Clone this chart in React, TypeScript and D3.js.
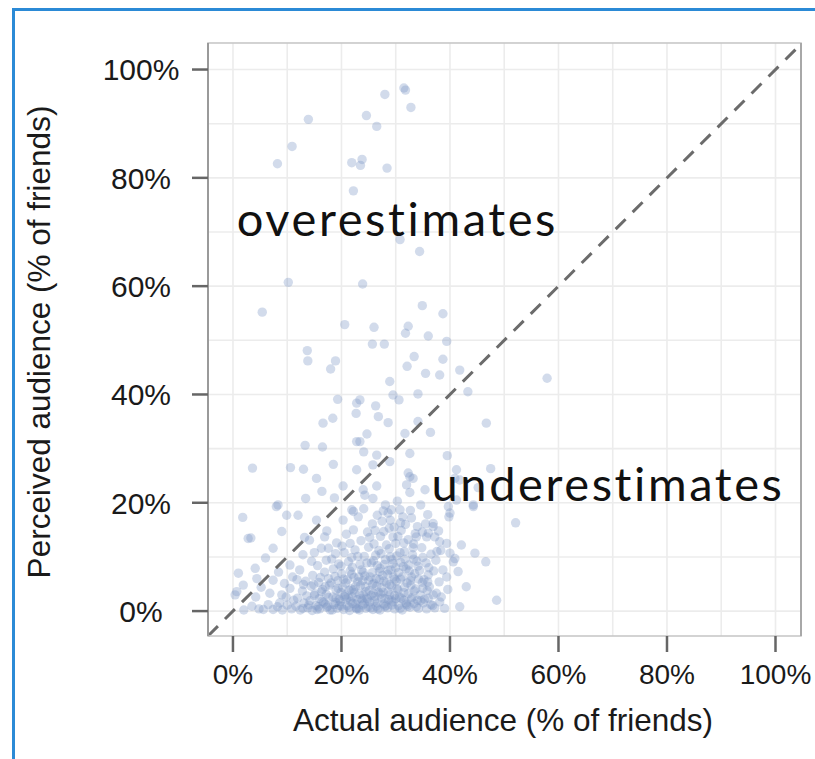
import * as d3 from "d3";
import { useEffect, useRef } from "react";

// axis ticks (percent)
const majorTicks = [0, 20, 40, 60, 80, 100];
const minorTicks = [10, 30, 50, 70, 90];
const xTitle = "Actual audience (% of friends)";
const yTitle = "Perceived audience (% of friends)";

// [actual %, perceived %]
const upperPoints: [number, number][] = [
  [13.9, 90.8], [10.9, 85.8], [8.2, 82.6], [28.0, 95.4], [31.5, 96.6], [31.8, 96.2],
  [32.8, 93.0], [24.6, 91.5], [26.5, 89.5], [21.9, 82.8], [23.8, 83.4], [23.5, 82.3],
  [28.4, 81.8], [22.2, 77.6], [30.8, 68.6], [34.4, 66.4], [10.2, 60.7], [23.9, 60.4],
  [5.4, 55.2], [34.9, 56.4], [38.7, 54.9], [20.6, 52.9], [26.0, 52.4], [32.3, 52.6],
  [31.8, 51.3], [36.0, 50.8], [39.4, 49.8], [25.7, 49.3], [27.9, 49.3], [13.7, 48.1],
  [13.8, 46.2], [18.9, 46.2], [33.4, 47.0], [38.7, 46.5], [35.5, 43.9],
];

const midPoints: [number, number][] = [
  [13.3, 30.6], [16.5, 30.3], [22.8, 31.3], [23.4, 31.3], [24.7, 32.7], [31.7, 32.8],
  [36.4, 33.0], [16.6, 34.7], [18.4, 35.6], [22.7, 36.5], [26.8, 35.9], [28.6, 34.8],
  [34.1, 35.0], [46.7, 34.7], [19.3, 39.1], [22.8, 38.4], [23.4, 39.0], [26.3, 37.9],
  [29.5, 39.9], [30.6, 39.0], [34.1, 40.1], [43.3, 40.5], [28.9, 42.4], [38.1, 43.6],
  [41.8, 44.5], [18.0, 44.7], [57.9, 43.0], [32.1, 45.2],
  [20.3, 23.1], [26.5, 23.1], [16.4, 22.1], [13.4, 20.8], [24.0, 22.4], [24.3, 21.4],
  [25.8, 20.8], [32.6, 24.8], [33.2, 24.5], [32.0, 23.3], [32.6, 21.9], [35.4, 22.4],
  [41.8, 24.2], [41.2, 20.5], [15.4, 24.5], [3.6, 26.4], [10.6, 26.5], [13.0, 26.2],
  [18.5, 27.1], [22.8, 26.1], [25.8, 27.0], [26.5, 28.8], [28.9, 27.6], [32.3, 25.5],
  [32.6, 29.1], [24.1, 29.4], [39.5, 28.7], [41.2, 26.1], [40.9, 24.5], [44.3, 19.6],
  [18.7, 20.9], [30.3, 20.3], [47.5, 26.3], [45.2, 22.8],
];

const lowPoints: [number, number][] = [
  [1.8, 17.3], [8.3, 19.6], [9.9, 17.7], [12.0, 17.7], [15.4, 16.8], [20.3, 16.8],
  [21.9, 18.7], [22.2, 18.4], [23.1, 17.4], [25.7, 16.1], [27.7, 18.5], [28.6, 18.1],
  [29.2, 18.7], [30.8, 18.7], [31.3, 17.4], [35.5, 16.1], [36.9, 16.2], [39.7, 19.3],
  [39.8, 17.4], [40.0, 18.1], [44.3, 19.3], [8.0, 19.3], [52.1, 16.3], [27.5, 16.6],
  [32.9, 17.2], [34.6, 19.6], [24.1, 18.9],
  [3.3, 13.5], [2.8, 13.4], [9.0, 14.7], [14.1, 13.1], [16.9, 13.7], [19.1, 12.6],
  [20.9, 14.2], [22.2, 15.0], [23.6, 13.0], [24.8, 14.6], [26.0, 12.4], [27.2, 13.8],
  [28.3, 12.2], [28.8, 15.3], [29.5, 13.7], [30.0, 12.5], [31.0, 14.9], [32.3, 13.2],
  [33.8, 13.7], [34.0, 15.6], [35.7, 13.7], [36.0, 14.4], [36.9, 15.6], [37.2, 13.7],
  [38.1, 12.8], [39.4, 12.5], [42.1, 12.2], [31.5, 12.6], [33.6, 14.3], [29.7, 15.5],
  [26.2, 14.9], [21.6, 12.5], [17.3, 14.8], [13.2, 13.6],
  [10.5, 8.5], [12.9, 10.4], [7.4, 11.6], [16.3, 11.6], [17.6, 11.6], [14.5, 9.2],
  [15.6, 8.4], [18.2, 9.6], [19.5, 8.7], [20.5, 10.8], [21.3, 9.1], [22.5, 11.3],
  [23.4, 8.6], [24.2, 10.1], [25.0, 11.8], [25.9, 9.3], [26.6, 8.4], [27.3, 10.6],
  [28.1, 9.5], [28.8, 11.5], [29.5, 8.8], [30.2, 10.2], [30.9, 9.0], [31.6, 11.0],
  [32.4, 8.5], [33.1, 10.4], [33.9, 9.2], [34.8, 11.7], [35.6, 8.9], [36.5, 10.5],
  [37.4, 9.4], [38.3, 11.2], [40.0, 10.7], [40.6, 9.1], [40.9, 9.7], [44.6, 10.7],
  [46.6, 9.1], [19.9, 8.3], [21.9, 9.9], [24.7, 8.9], [26.9, 11.2], [29.0, 10.0],
  [33.3, 9.6], [31.4, 8.2], [6.0, 9.8],
];

const densePoints: [number, number][] = [
  [1.0, 7.0], [4.4, 6.0], [4.1, 7.9], [7.4, 5.7], [12.3, 7.6], [13.4, 5.5], [14.7, 6.6],
  [15.8, 5.3], [16.9, 7.2], [17.6, 6.0], [18.5, 7.8], [19.3, 5.6], [20.0, 6.9], [20.8, 5.2],
  [21.6, 7.4], [22.3, 6.2], [23.0, 5.4], [23.7, 7.6], [24.3, 6.5], [25.0, 5.7], [25.7, 7.1],
  [26.4, 6.0], [27.1, 7.9], [27.8, 5.5], [28.5, 6.8], [29.1, 7.6], [29.8, 5.9], [30.5, 7.1],
  [31.2, 6.3], [31.9, 7.8], [32.7, 5.6], [33.5, 6.9], [34.4, 7.5], [35.2, 5.8], [36.0, 6.7],
  [37.0, 7.4], [38.7, 7.6], [39.4, 6.3], [41.5, 7.3], [11.0, 6.3], [9.5, 5.1], [8.4, 7.2],
  [0.4, 3.0], [0.7, 3.6], [1.9, 4.8], [4.2, 2.6], [6.8, 3.3], [9.0, 3.0], [10.5, 4.2],
  [11.9, 2.4], [12.8, 3.7], [13.6, 2.8], [14.4, 4.6], [15.1, 3.2], [15.9, 2.3], [16.5, 4.0],
  [17.2, 3.1], [17.8, 4.8], [18.4, 2.6], [19.0, 3.9], [19.6, 2.2], [20.2, 4.4], [20.7, 3.0],
  [21.3, 2.5], [21.8, 4.1], [22.4, 3.4], [22.9, 2.1], [23.5, 4.7], [24.0, 3.0], [24.6, 2.4],
  [25.1, 3.8], [25.7, 4.9], [26.2, 2.7], [26.8, 3.5], [27.4, 4.3], [28.0, 2.3], [28.6, 3.6],
  [29.2, 4.6], [29.8, 2.9], [30.4, 3.9], [31.0, 2.4], [31.6, 4.4], [32.3, 3.2], [33.0, 2.5],
  [33.7, 4.1], [34.5, 3.0], [35.3, 2.2], [36.2, 4.5], [37.5, 3.3], [38.4, 2.6], [39.6, 4.0],
  [43.0, 4.5], [5.2, 4.4],
  [2.0, 0.2], [3.5, 0.9], [4.8, 0.4], [5.6, 0.3], [6.5, 1.2], [7.4, 0.3], [8.2, 0.8],
  [9.1, 0.2], [10.0, 1.1], [10.8, 0.4], [11.6, 0.9], [12.4, 0.2], [13.1, 1.5], [13.8, 0.6],
  [14.6, 0.1], [15.3, 1.0], [16.0, 0.4], [16.7, 1.6], [17.3, 0.7], [17.9, 0.2], [18.6, 1.2],
  [19.2, 0.5], [19.8, 1.8], [20.4, 0.3], [21.0, 1.0], [21.5, 0.1], [22.1, 1.4], [22.7, 0.6],
  [23.3, 0.2], [23.9, 1.1], [24.5, 0.5], [25.2, 1.7], [25.8, 0.3], [26.4, 0.9], [27.1, 0.2],
  [27.8, 1.3], [28.5, 0.6], [29.2, 2.0], [29.8, 0.4], [30.5, 1.0], [31.2, 0.2], [31.9, 1.5],
  [32.6, 0.7], [33.8, 0.8], [34.6, 1.9], [35.7, 0.4], [36.5, 1.2], [38.1, 1.7], [39.0, 0.5],
  [41.8, 0.8], [48.6, 2.0],
  [14.2, 1.9], [15.0, 2.9], [15.7, 0.8], [16.3, 3.6], [17.0, 1.3], [17.6, 2.5], [18.1, 5.2],
  [18.9, 1.6], [19.4, 4.2], [20.0, 0.9], [20.6, 2.7], [21.1, 5.8], [21.7, 1.8], [22.2, 3.9],
  [22.8, 0.4], [23.2, 6.3], [23.8, 2.0], [24.4, 4.5], [24.9, 0.8], [25.5, 2.9], [26.0, 5.1],
  [26.6, 1.5], [27.2, 3.1], [27.6, 6.6], [28.2, 1.0], [28.9, 4.9], [29.5, 1.7], [30.1, 5.5],
  [30.7, 2.6], [32.0, 1.2], [32.8, 4.8], [34.0, 2.0], [34.9, 5.3], [35.8, 3.8], [36.8, 1.0],
];

const corePoints: [number, number][] = [
  [12.9, 0.5], [14.0, 1.1], [15.5, 0.3], [16.4, 1.8], [17.5, 0.9], [18.3, 0.2], [19.0, 2.4],
  [19.6, 1.0], [20.9, 2.2], [21.4, 0.7], [22.0, 2.6], [22.6, 1.3], [23.1, 0.5], [23.6, 2.3],
  [24.2, 1.4], [24.8, 2.2], [25.4, 0.6], [26.1, 1.9], [26.7, 0.4], [27.4, 2.4], [28.0, 0.8],
  [28.7, 2.1], [29.3, 1.1], [30.0, 2.3], [30.8, 0.5], [31.5, 2.0], [32.2, 0.9], [32.9, 2.2],
  [33.4, 1.4], [34.2, 0.5], [35.1, 1.5], [36.0, 2.4], [37.2, 0.6], [11.2, 2.0], [9.8, 2.6],
  [8.6, 1.5],
  [14.9, 4.9], [16.1, 6.2], [17.0, 4.5], [18.8, 6.4], [19.9, 3.4], [20.4, 5.9], [21.4, 3.8],
  [21.9, 6.8], [22.6, 4.6], [23.3, 3.1], [23.9, 5.6], [24.5, 3.6], [25.3, 6.3], [25.9, 3.3],
  [26.5, 4.6], [27.0, 5.8], [27.7, 3.5], [28.3, 5.2], [28.9, 3.0], [29.6, 6.3], [30.2, 4.2],
  [30.9, 5.9], [31.5, 3.4], [32.1, 5.2], [32.9, 6.3], [33.4, 3.7], [34.2, 5.9], [35.0, 4.2],
  [35.9, 5.4], [36.9, 3.0], [38.0, 5.4], [13.0, 4.9], [11.8, 5.8],
  [22.0, 8.1], [23.0, 10.1], [24.0, 7.2], [25.5, 8.9], [26.3, 10.3], [27.0, 7.3], [27.9, 8.6],
  [28.6, 7.5], [29.3, 9.5], [30.0, 8.0], [30.8, 10.8], [31.7, 9.6], [32.5, 7.4], [33.2, 11.7],
  [34.1, 8.3], [35.0, 9.9], [36.1, 8.0], [37.6, 11.0], [17.2, 9.4], [18.9, 10.6], [20.1, 12.0],
  [15.0, 10.8],
  [27.8, 14.7], [29.0, 16.8], [30.4, 13.8], [31.8, 16.0], [32.7, 18.6], [33.3, 12.4],
  [34.9, 14.6], [26.6, 17.7], [28.1, 19.6], [35.9, 17.8], [37.9, 14.8], [30.9, 16.3],
  [25.2, 13.6],
];

const allPoints = [...upperPoints, ...midPoints, ...lowPoints, ...densePoints, ...corePoints];

export default function App() {
  const svgRef = useRef<SVGSVGElement>(null);

  useEffect(() => {
    const width = 815;
    const height = 759;
    const svg = d3.select(svgRef.current);
    svg.selectAll("*").remove();
    svg.attr("width", width).attr("height", height);

    const panel = { left: 208, top: 43, right: 801, bottom: 636 };
    const x = d3.scaleLinear().domain([-4.6, 104.7]).range([panel.left, panel.right]);
    const y = d3.scaleLinear().domain([-4.6, 104.9]).range([panel.bottom, panel.top]);

    svg.append("rect").attr("width", width).attr("height", height).attr("fill", "#fff");

    // blue frame around the figure
    svg
      .append("rect")
      .attr("x", 13.5)
      .attr("y", 9.5)
      .attr("width", 830)
      .attr("height", 800)
      .attr("fill", "none")
      .attr("stroke", "#2b8ad6")
      .attr("stroke-width", 3);

    const axisFont = "'Liberation Sans', Arial, Helvetica, sans-serif";

    // grid
    const grid = svg.append("g");
    minorTicks.concat(majorTicks).forEach((t) => {
      grid
        .append("line")
        .attr("x1", x(t))
        .attr("x2", x(t))
        .attr("y1", panel.top)
        .attr("y2", panel.bottom)
        .attr("stroke", "#ececec")
        .attr("stroke-width", 1.6);
      grid
        .append("line")
        .attr("y1", y(t))
        .attr("y2", y(t))
        .attr("x1", panel.left)
        .attr("x2", panel.right)
        .attr("stroke", "#ececec")
        .attr("stroke-width", 1.6);
    });

    // points
    svg
      .append("g")
      .selectAll("circle")
      .data(allPoints)
      .enter()
      .append("circle")
      .attr("cx", (d) => x(d[0]))
      .attr("cy", (d) => y(d[1]))
      .attr("r", 4.7)
      .attr("fill", "#7f97c6")
      .attr("fill-opacity", 0.35);

    // y = x reference line
    svg
      .append("line")
      .attr("x1", x(-4.6))
      .attr("y1", y(-4.6))
      .attr("x2", x(104.7))
      .attr("y2", y(104.7))
      .attr("stroke", "#6b6b6b")
      .attr("stroke-width", 3)
      .attr("stroke-dasharray", "14 10");

    // panel border
    svg
      .append("rect")
      .attr("x", panel.left)
      .attr("y", panel.top)
      .attr("width", panel.right - panel.left)
      .attr("height", panel.bottom - panel.top)
      .attr("fill", "none")
      .attr("stroke", "#c8c8c8")
      .attr("stroke-width", 1.6);
    svg
      .append("line")
      .attr("x1", panel.left)
      .attr("x2", panel.left)
      .attr("y1", panel.top)
      .attr("y2", panel.bottom)
      .attr("stroke", "#9a9a9a")
      .attr("stroke-width", 2);
    svg
      .append("line")
      .attr("x1", panel.right)
      .attr("x2", panel.right)
      .attr("y1", panel.top)
      .attr("y2", panel.bottom)
      .attr("stroke", "#a8a8a8")
      .attr("stroke-width", 2);

    // ticks + labels
    const axes = svg.append("g").attr("font-family", axisFont).attr("fill", "#1a1a1a");
    majorTicks.forEach((t) => {
      axes
        .append("line")
        .attr("x1", panel.left - 16)
        .attr("x2", panel.left)
        .attr("y1", y(t))
        .attr("y2", y(t))
        .attr("stroke", "#666")
        .attr("stroke-width", 2.5);
      axes
        .append("text")
        .attr("x", 141)
        .attr("y", y(t))
        .attr("dy", "0.36em")
        .attr("text-anchor", "middle")
        .attr("font-size", 30)
        .text(`${t}%`);
      axes
        .append("line")
        .attr("x1", x(t))
        .attr("x2", x(t))
        .attr("y1", panel.bottom)
        .attr("y2", panel.bottom + 16)
        .attr("stroke", "#666")
        .attr("stroke-width", 2.5);
      axes
        .append("text")
        .attr("x", x(t))
        .attr("y", panel.bottom + 48)
        .attr("text-anchor", "middle")
        .attr("font-size", 28)
        .text(`${t}%`);
    });

    axes
      .append("text")
      .attr("x", 503)
      .attr("y", 731)
      .attr("text-anchor", "middle")
      .attr("font-size", 31.5)
      .text(xTitle);
    axes
      .append("text")
      .attr("transform", `translate(50, 342) rotate(-90)`)
      .attr("text-anchor", "middle")
      .attr("font-size", 31.5)
      .text(yTitle);

    // annotations
    const note = svg
      .append("g")
      .attr("font-family", "Lato, 'Open Sans', sans-serif")
      .attr("font-size", 47)
      .attr("letter-spacing", 2.6)
      .attr("fill", "#111");
    note.append("text").attr("x", x(0.7)).attr("y", y(69.3)).text("overestimates");
    note.append("text").attr("x", x(36.6)).attr("y", y(20.3)).text("underestimates");
  }, []);

  return (
    <div style={{ position: "absolute", left: 0, top: 0 }}>
      <svg ref={svgRef} style={{ display: "block" }} />
    </div>
  );
}
